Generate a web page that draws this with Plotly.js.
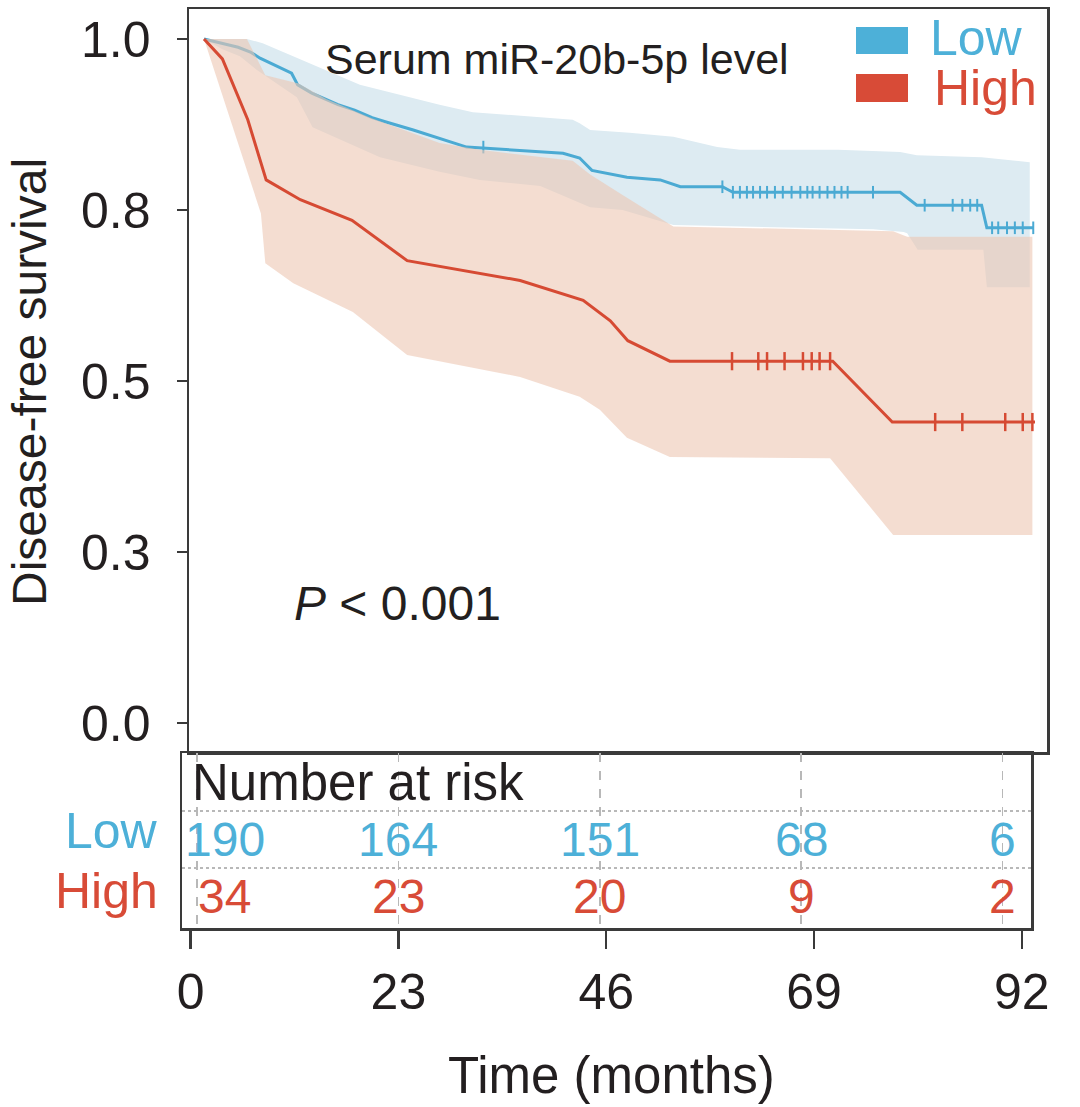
<!DOCTYPE html>
<html><head><meta charset="utf-8">
<script src="https://cdn.plot.ly/plotly-3.0.1.min.js"></script>
<style>html,body{margin:0;padding:0;background:#fff}</style>
</head><body><div id="chart" style="width:1080px;height:1107px"></div>
<script>
// ---------- data ----------
const lowTime = [0, 2.1, 3.9, 5.3, 6.4, 10.0, 10.7, 12.3, 15.3, 17.2, 19.2, 20.7, 23.9, 30.0, 41.0, 42.9, 44.3, 48.3, 52.1, 54.4, 59.2, 60.4, 79.5, 81.4, 88.8, 89.4, 94.7];
const lowSurv = [1.0, 0.993, 0.988, 0.981, 0.972, 0.950, 0.933, 0.921, 0.904, 0.896, 0.885, 0.879, 0.867, 0.842, 0.833, 0.826, 0.808, 0.798, 0.794, 0.784, 0.784, 0.776, 0.776, 0.757, 0.757, 0.724, 0.724];
const lowCensor = [31.9, 59.2, 60.4, 61.2, 62.0, 62.7, 63.5, 64.3, 65.2, 66.1, 67.1, 68.1, 68.9, 69.5, 70.3, 71.2, 72.0, 72.8, 73.5, 76.4, 82.3, 85.5, 86.6, 87.5, 88.3, 90.0, 90.7, 91.7, 92.6, 93.5, 94.7];
const lowUpperTime = [0, 4.9, 6.7, 17.8, 26.9, 30.7, 42.1, 42.9, 44.1, 48.6, 53.6, 58.6, 61.2, 72.4, 79.5, 81.4, 88.8, 94.3];
const lowUpper = [1.0, 1.0, 0.994, 0.933, 0.904, 0.893, 0.882, 0.877, 0.867, 0.863, 0.857, 0.842, 0.838, 0.838, 0.835, 0.830, 0.827, 0.820];
const lowLowerTime = [0, 2.1, 4.1, 6.0, 10.6, 12.4, 20.1, 26.9, 31.5, 38.4, 44.1, 47.8, 53.6, 76.4, 79.9, 80.3, 81.5, 89.0, 89.4, 94.3];
const lowLower = [1.0, 0.985, 0.975, 0.955, 0.915, 0.871, 0.827, 0.806, 0.794, 0.785, 0.754, 0.750, 0.728, 0.722, 0.718, 0.716, 0.692, 0.692, 0.637, 0.637];

const highTime = [0, 2.1, 5.0, 6.4, 7.1, 11.0, 16.9, 23.2, 36.1, 43.3, 46.4, 48.4, 53.2, 71.8, 78.6, 94.9];
const highSurv = [1.0, 0.971, 0.882, 0.824, 0.794, 0.765, 0.735, 0.676, 0.647, 0.618, 0.588, 0.559, 0.529, 0.529, 0.440, 0.440];
const highCensor = [60.3, 63.3, 64.3, 66.3, 68.4, 69.4, 70.3, 71.5, 83.5, 86.6, 91.5, 93.5, 94.6];
const highUpperTime = [0, 4.9, 7.0, 10.8, 14.0, 19.0, 26.9, 31.5, 42.1, 44.1, 47.8, 53.6, 78.7, 80.3, 94.6];
const highUpper = [1.0, 1.0, 0.947, 0.935, 0.912, 0.885, 0.848, 0.838, 0.822, 0.802, 0.772, 0.726, 0.719, 0.711, 0.711];
const highLowerTime = [0, 6.5, 7.0, 10.2, 17.0, 23.2, 36.1, 42.9, 45.2, 48.3, 53.2, 71.5, 78.7, 94.6];
const highLower = [1.0, 0.745, 0.672, 0.643, 0.601, 0.538, 0.506, 0.477, 0.458, 0.417, 0.389, 0.387, 0.275, 0.275];

const groups = ['Low', 'High'];
const riskTimes = [0, 23, 46, 69, 92];
const riskLow = [190, 164, 151, 68, 6];
const riskHigh = [34, 23, 20, 9, 2];
const yTickVals = [0, 0.25, 0.5, 0.75, 1];
const yTickText = ['0.0', '0.3', '0.5', '0.8', '1.0'];

// ---------- styling ----------
const BLUE = '#4BAAD3', BLUE_TXT = '#4DB0D8';
const RED = '#D64A33', RED_TXT = '#D84B37';
const AX = '#3a3a3a', TXT = '#231f20';
const FONT = '"Liberation Sans", Arial, Helvetica, sans-serif';
const W = 1080, H = 1107;
const px = v => v / W, py = v => 1 - v / H;

function stepAt(ts, ss, t) {
  let v = ss[0];
  for (let i = 0; i < ts.length; i++) if (ts[i] <= t + 1e-9) v = ss[i];
  return v;
}
function band(tu, u, tl, l) {
  return { x: tu.concat(tl.slice().reverse()), y: u.concat(l.slice().reverse()) };
}

const bLow = band(lowUpperTime, lowUpper, lowLowerTime, lowLower);
const bHigh = band(highUpperTime, highUpper, highLowerTime, highLower);

const traces = [
  { x: bLow.x, y: bLow.y, fill: 'toself', fillcolor: 'rgb(221,235,242)', mode: 'lines', line: { width: 0 }, hoverinfo: 'skip', showlegend: false, xaxis: 'x', yaxis: 'y' },
  { x: lowTime, y: lowSurv, mode: 'lines', line: { color: BLUE, width: 3 }, name: groups[0], showlegend: false, xaxis: 'x', yaxis: 'y' },
  { x: lowCensor, y: lowCensor.map(t => stepAt(lowTime, lowSurv, t)), mode: 'markers', marker: { symbol: 'line-ns-open', size: 9, color: BLUE, line: { color: BLUE, width: 2 } }, showlegend: false, hoverinfo: 'skip', xaxis: 'x', yaxis: 'y' },
  { x: bHigh.x, y: bHigh.y, fill: 'toself', fillcolor: 'rgba(236,198,178,0.6)', mode: 'lines', line: { width: 0 }, hoverinfo: 'skip', showlegend: false, xaxis: 'x', yaxis: 'y' },
  { x: highTime, y: highSurv, mode: 'lines', line: { color: RED, width: 3 }, name: groups[1], showlegend: false, xaxis: 'x', yaxis: 'y' },
  { x: highCensor, y: highCensor.map(t => stepAt(highTime, highSurv, t)), mode: 'markers', marker: { symbol: 'line-ns-open', size: 13, color: RED, line: { color: RED, width: 2.5 } }, showlegend: false, hoverinfo: 'skip', xaxis: 'x', yaxis: 'y' },
  { x: [riskTimes[0]], y: [1], mode: 'markers', marker: { opacity: 0 }, hoverinfo: 'skip', showlegend: false, xaxis: 'x3', yaxis: 'y2' }
];

function ann(o) { return Object.assign({ showarrow: false, xanchor: 'center', yanchor: 'middle' }, o); }

const annotations = [
  ann({ text: 'Disease-free survival', xref: 'paper', yref: 'paper', x: px(29), y: py(382), textangle: -90, font: { size: 48, color: TXT, family: FONT } }),
  ann({ text: 'Time (months)', xref: 'paper', yref: 'paper', x: px(611), y: py(1075), font: { size: 51, color: TXT, family: FONT } }),
  ann({ text: 'Serum miR-20b-5p level', xref: 'paper', yref: 'paper', x: px(557), y: py(59), font: { size: 43, color: TXT, family: FONT } }),
  ann({ text: '<i>P</i> &lt; 0.001', xref: 'paper', yref: 'paper', x: px(397), y: py(603), font: { size: 48, color: TXT, family: FONT } }),
  ann({ text: groups[0], xref: 'paper', yref: 'paper', x: px(928), y: py(38), xanchor: 'left', font: { size: 50, color: BLUE_TXT, family: FONT } }),
  ann({ text: groups[1], xref: 'paper', yref: 'paper', x: px(932), y: py(88), xanchor: 'left', font: { size: 50, color: RED_TXT, family: FONT } }),
  ann({ text: 'Number at risk', xref: 'paper', yref: 'y2', x: px(190), y: 3, xanchor: 'left', font: { size: 51, color: TXT, family: FONT } }),
  ann({ text: groups[0], xref: 'paper', yref: 'y2', x: px(160), y: 2, yshift: 9, xanchor: 'right', font: { size: 50, color: BLUE_TXT, family: FONT } }),
  ann({ text: groups[1], xref: 'paper', yref: 'y2', x: px(160), y: 1, yshift: 6, xanchor: 'right', font: { size: 50, color: RED_TXT, family: FONT } })
];
riskTimes.forEach((t, i) => {
  annotations.push(ann({ text: String(riskLow[i]), xref: 'x2', yref: 'y2', x: t, y: 2, xshift: i === 0 ? 28 : 0, font: { size: 48, color: BLUE_TXT, family: FONT } }));
  annotations.push(ann({ text: String(riskHigh[i]), xref: 'x2', yref: 'y2', x: t, y: 1, xshift: i === 0 ? 27 : 0, font: { size: 48, color: RED_TXT, family: FONT } }));
});

const shapes = [
  { type: 'rect', xref: 'paper', yref: 'paper', x0: px(856), x1: px(908), y0: py(54), y1: py(27), fillcolor: BLUE_TXT, line: { width: 0 } },
  { type: 'rect', xref: 'paper', yref: 'paper', x0: px(856), x1: px(908), y0: py(102), y1: py(74), fillcolor: RED_TXT, line: { width: 0 } }
];

const layout = {
  width: W, height: H,
  margin: { l: 0, r: 0, t: 0, b: 0 },
  paper_bgcolor: '#fff', plot_bgcolor: '#fff',
  font: { family: FONT, color: TXT },
  showlegend: false,
  xaxis: { domain: [px(189), px(1047)], range: [-1.713, 96.27], anchor: 'y', showline: true, mirror: true, linecolor: AX, linewidth: 2.5, showgrid: false, zeroline: false, showticklabels: false, ticks: '' },
  yaxis: { domain: [py(752), py(9)], range: [-0.0424, 1.0439], anchor: 'x', tickvals: yTickVals, ticktext: yTickText, ticks: 'outside', ticklen: 10, tickwidth: 2.5, tickcolor: AX, showline: true, mirror: true, linecolor: AX, linewidth: 2.5, showgrid: false, zeroline: false, tickfont: { size: 50, color: TXT, family: FONT }, ticklabelstandoff: 16 },
  xaxis2: { domain: [px(182), px(1031)], range: [-1.713, 95.24], anchor: 'y2', showline: true, mirror: true, linecolor: AX, linewidth: 2.5, tickvals: riskTimes, showgrid: true, gridcolor: '#b8b8b8', gridwidth: 1.5, griddash: 'dash', ticks: '', showticklabels: false, zeroline: false },
  yaxis2: { domain: [py(928), py(753)], range: [0.45, 3.52], anchor: 'x2', showline: true, mirror: true, linecolor: AX, linewidth: 2.5, tickvals: [1.5, 2.5], showgrid: true, gridcolor: '#b8b8b8', gridwidth: 2, griddash: 'dot', ticks: '', showticklabels: false, zeroline: false },
  xaxis3: { overlaying: 'x2', anchor: 'y2', side: 'bottom', range: [-0.952, 93.01], tickvals: riskTimes, ticks: 'outside', ticklen: 20, tickwidth: 2.5, tickcolor: AX, showline: false, showgrid: false, zeroline: false, tickfont: { size: 50, color: TXT, family: FONT } },
  annotations: annotations,
  shapes: shapes
};

Plotly.newPlot('chart', traces, layout, { staticPlot: true, displayModeBar: false });
</script></body></html>
